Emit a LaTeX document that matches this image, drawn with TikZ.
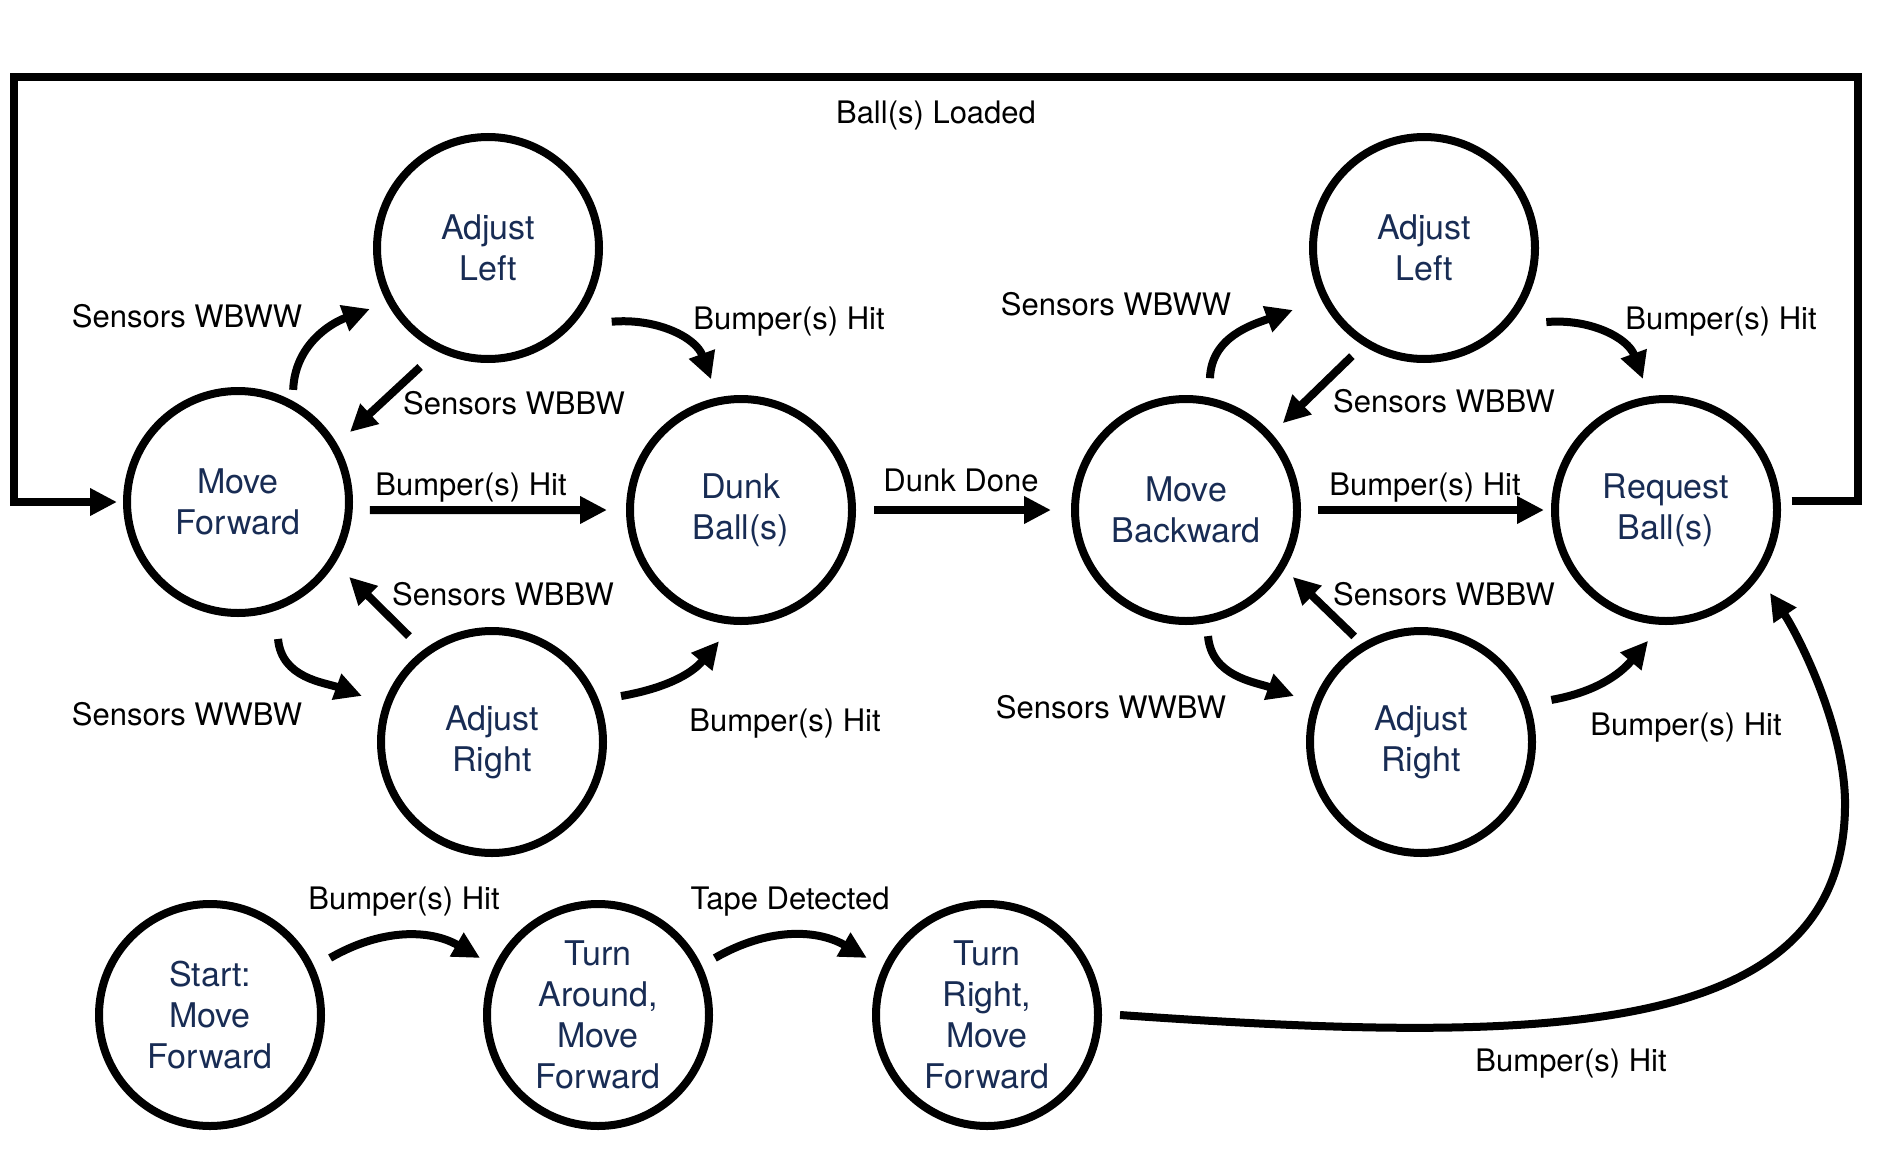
\documentclass[tikz,border=0pt]{standalone}
\usepackage{fontspec}
\setmainfont{TeX Gyre Heros}
\usetikzlibrary{arrows.meta,calc}
\definecolor{navy}{RGB}{24,44,84}
\begin{document}
\begin{tikzpicture}[x=0.5pt,y=0.5pt,
  state/.style={circle,draw=black,line width=4pt,minimum size=111pt,inner sep=0pt,
    align=center,font=\fontsize{17}{20.5}\selectfont,text=navy},
  lbl/.style={font=\fontsize{15.5}{18}\selectfont,inner sep=0pt,text height=11pt,text depth=0pt},
  arr/.style={line width=4pt,-{Triangle[length=13.5pt,width=13pt]}},
]
\useasboundingbox (0,0) rectangle (1882,-1156);

% states
\node[state] (AL1) at (488,-248) {Adjust\\Left};
\node[state] (MF)  at (238,-502) {Move\\Forward};
\node[state] (DB)  at (741,-510) {Dunk\\Ball(s)};
\node[state] (AR1) at (492,-742) {Adjust\\Right};
\node[state] (MB)  at (1186,-510) {Move\\Backward};
\node[state] (AL2) at (1424,-248) {Adjust\\Left};
\node[state] (RB)  at (1666,-510) {Request\\Ball(s)};
\node[state] (AR2) at (1421,-742) {Adjust\\Right};
\node[state] (ST)  at (210,-1015) {Start:\\Move\\Forward};
\node[state] (TA)  at (598,-1015) {Turn\\Around,\\Move\\Forward};
\node[state] (TR)  at (987,-1015) {Turn\\Right,\\Move\\Forward};

% loop
\coordinate (lpTR) at (1858,-77);
\coordinate (lpTL) at (14,-77);
\draw[arr,line join=miter] ($(RB)+(4.3:126)$) -| (lpTR) -- (lpTL) |- ($(MF)+(180:121)$);
\node[lbl] (lLoaded) at (936,-113) {Ball(s) Loaded};

% left group
\draw[arr] ($(MF)+(63.8:125)$) to[out=88,in=200] ($(AL1)+(207.3:133)$);
\draw[arr] ($(AL1)+(240.3:137)$) -- ($(MF)+(32:132)$);
\draw[arr] ($(AL1)+(329.2:144)$) to[out=5,in=110] ($(DB)+(102.9:134)$);
\draw[arr] ($(MF)+(-3.5:132)$) -- ($(DB)+(180:134)$);
\draw[arr] ($(AR1)+(128.1:134.6)$) -- ($(MF)+(326:134)$);
\draw[arr] ($(MF)+(286.3:142.7)$) to[out=275,in=160] ($(AR1)+(160.5:138)$);
\draw[arr] ($(AR1)+(19.6:137)$) to[out=10,in=230] ($(DB)+(260.5:133)$);

\node[lbl] (l1) at (187,-316) {Sensors WBWW};
\node[lbl] (l2) at (514,-403) {Sensors WBBW};
\node[lbl] (l3) at (789,-318) {Bumper(s) Hit};
\node[lbl] (l4) at (471,-484) {Bumper(s) Hit};
\node[lbl] (l5) at (503,-594) {Sensors WBBW};
\node[lbl] (l6) at (187,-714) {Sensors WWBW};
\node[lbl] (l7) at (785,-720) {Bumper(s) Hit};

% middle
\draw[arr] ($(DB)+(0:133)$) -- ($(MB)+(180:135)$);
\node[lbl] (l8) at (961,-480) {Dunk Done};

% right group
\draw[arr] ($(MB)+(79.7:134)$) to[out=88,in=200] ($(AL2)+(205.3:145)$);
\draw[arr] ($(AL2)+(236.3:130)$) -- ($(MB)+(41.9:130)$);
\draw[arr] ($(AL2)+(328.8:143)$) to[out=5,in=110] ($(RB)+(100:133)$);
\draw[arr] ($(MB)+(0:132)$) -- ($(RB)+(180:122)$);
\draw[arr] ($(AR2)+(122.3:125)$) -- ($(MB)+(327.9:126)$);
\draw[arr] ($(MB)+(279.9:128)$) to[out=275,in=160] ($(AR2)+(160.1:135)$);
\draw[arr] ($(AR2)+(17.9:137)$) to[out=10,in=230] ($(RB)+(262.2:132)$);

\node[lbl] (l9)  at (1116,-304) {Sensors WBWW};
\node[lbl] (l10) at (1444,-401) {Sensors WBBW};
\node[lbl] (l11) at (1721,-318) {Bumper(s) Hit};
\node[lbl] (l12) at (1425,-484) {Bumper(s) Hit};
\node[lbl] (l13) at (1444,-594) {Sensors WBBW};
\node[lbl] (l14) at (1111,-707) {Sensors WWBW};
\node[lbl] (l15) at (1686,-724) {Bumper(s) Hit};

% bottom row
\draw[arr] ($(ST)+(25.4:133)$) to[out=30,in=150] ($(TA)+(154.2:131)$);
\draw[arr] ($(TA)+(26:130)$) to[out=30,in=150] ($(TR)+(154.6:133)$);
\draw[arr] ($(TR)+(0:133)$) .. controls (1550,-1045) and (1848,-1040) .. (1845,-800)
   .. controls (1843,-720) and (1795,-630) .. ($(RB)+(321.4:133)$);

\node[lbl] (l16) at (404,-898) {Bumper(s) Hit};
\node[lbl] (l17) at (790,-898) {Tape Detected};
\node[lbl] (l18) at (1571,-1060) {Bumper(s) Hit};
\end{tikzpicture}
\end{document}
